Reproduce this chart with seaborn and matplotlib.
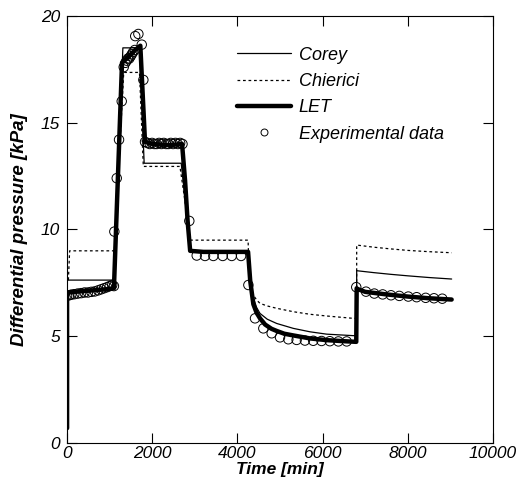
import matplotlib
matplotlib.use("Agg")
import matplotlib.pyplot as plt
import seaborn as sns
import pandas as pd
from matplotlib.lines import Line2D

sns.set_style("ticks")
plt.rcParams['font.family'] = ['Liberation Sans', 'DejaVu Sans']
for k in ["text.color", "axes.labelcolor", "xtick.color", "ytick.color", "axes.edgecolor"]:
    plt.rcParams[k] = "black"

# ---- data ----
let_t = [0, 0, 30, 300, 600, 900, 1100, 1290, 1400, 1500, 1600, 1720, 1830, 2000, 2400, 2700,
         2770, 2830, 2890, 3200, 3800, 4250, 4300, 4374, 4450, 4530, 4650, 4800, 4922, 5100,
         5313, 5704, 6095, 6500, 6790, 6800, 6810, 7000, 7500, 8000, 8500, 9030]
let_p = [0.7, 6.9, 7.05, 7.1, 7.15, 7.2, 7.25, 17.8, 18.0, 18.2, 18.4, 18.6, 14.1, 14.0, 13.95, 14.0,
         12.3, 10.4, 9.0, 8.95, 8.95, 8.95, 7.6, 6.5, 6.1, 5.84, 5.55, 5.35, 5.25, 5.12,
         5.04, 4.9, 4.82, 4.77, 4.74, 7.25, 7.22, 7.08, 6.96, 6.86, 6.78, 6.72]

corey_t = [0, 0, 30, 1110, 1310, 1700, 1810, 2680, 2900, 4250, 4300, 4374, 4450, 4530, 4700, 4922,
           5313, 5704, 6095, 6720, 6800, 6800, 7200, 7600, 8000, 8500, 9030]
corey_p = [0.7, 7.6, 7.63, 7.63, 18.5, 18.5, 13.1, 13.1, 9.0, 9.0, 7.7, 6.8, 6.35, 6.07, 5.8, 5.6,
           5.37, 5.21, 5.1, 5.03, 5.03, 8.07, 7.98, 7.9, 7.83, 7.75, 7.68]

chier_t = [0, 0, 30, 60, 1110, 1330, 1700, 1790, 2650, 2900, 4250, 4270, 4320, 4374, 4450, 4530,
           4700, 4922, 5313, 5704, 6095, 6720, 6800, 6800, 7200, 7600, 8000, 8500, 9030]
chier_p = [0.7, 7.5, 7.6, 9.0, 9.0, 17.35, 17.35, 12.95, 12.95, 9.5, 9.5, 8.3, 7.4, 6.93, 6.7, 6.54,
           6.42, 6.31, 6.15, 6.03, 5.95, 5.84, 5.84, 9.27, 9.17, 9.09, 9.02, 8.96, 8.91]

exp_t = [0, 50, 100, 170, 250, 330, 410, 490, 570, 650, 730, 800, 870, 940, 1000, 1060, 1100,
         1110, 1166, 1220, 1283, 1330, 1370, 1400, 1430, 1460, 1490, 1520, 1550, 1590, 1600, 1674,
         1753, 1791, 1830, 1885, 1940, 1995, 2050, 2105, 2160, 2215, 2270, 2325, 2380, 2435,
         2490, 2545, 2600, 2655, 2710, 2870, 3044, 3239, 3434, 3655, 3866, 4085, 4257, 4413,
         4608, 4804, 5000, 5195, 5390, 5585, 5780, 5975, 6170, 6370, 6565, 6790, 7019, 7214,
         7410, 7606, 7801, 8012, 8208, 8420, 8615, 8810]
exp_p = [6.9, 6.92, 6.95, 6.97, 7.0, 7.02, 7.05, 7.05, 7.08, 7.1, 7.15, 7.2, 7.25, 7.3, 7.35, 7.4, 7.35,
         9.9, 12.4, 14.2, 16.0, 17.6, 17.8, 17.9, 18.0, 18.0, 18.1, 18.2, 18.3, 18.4, 19.05, 19.15,
         18.65, 17.0, 14.1, 14.05, 14.0, 14.05, 14.0, 14.0, 14.05, 14.0, 14.05, 14.0, 14.0, 14.05,
         14.0, 14.05, 14.0, 14.05, 14.0, 10.4, 8.78, 8.76, 8.76, 8.76, 8.76, 8.76, 7.4, 5.84,
         5.37, 5.14, 4.95, 4.86, 4.83, 4.8, 4.79, 4.78, 4.77, 4.76, 4.76, 7.3, 7.09, 7.0,
         6.96, 6.92, 6.89, 6.86, 6.83, 6.8, 6.78, 6.76]

x_ticks = [0, 2000, 4000, 6000, 8000, 10000]
y_ticks = [0, 5, 10, 15, 20]

# ---- plot ----
fig = plt.figure(figsize=(5.2, 4.94), dpi=100)
ax = fig.add_axes([0.129, 0.103, 0.819, 0.865])

df_let = pd.DataFrame({"t": let_t, "p": let_p})
df_cor = pd.DataFrame({"t": corey_t, "p": corey_p})
df_chi = pd.DataFrame({"t": chier_t, "p": chier_p})
df_exp = pd.DataFrame({"t": exp_t, "p": exp_p})

sns.lineplot(data=df_cor, x="t", y="p", sort=False, estimator=None, color="black", lw=0.9, ax=ax)
sns.lineplot(data=df_chi, x="t", y="p", sort=False, estimator=None, color="black", lw=0.9,
             dashes=False, ax=ax).lines[-1].set_dashes((2.2, 2.2))
sns.lineplot(data=df_let, x="t", y="p", sort=False, estimator=None, color="black", lw=3.2, ax=ax)
sns.scatterplot(data=df_exp, x="t", y="p", marker="o", s=46, facecolors="none",
                edgecolor="black", linewidth=0.7, ax=ax, zorder=5)

ax.set_xlim(0, 10000)
ax.set_ylim(0, 20)
ax.set_xticks(x_ticks)
ax.set_yticks(y_ticks)
ax.set_xticklabels([str(v) for v in x_ticks], fontsize=12.5, style="italic")
ax.set_yticklabels([str(v) for v in y_ticks], fontsize=12.5, style="italic")
ax.tick_params(direction="in", length=7, width=0.8, top=True, right=True)
ax.tick_params(axis="x", pad=2)
ax.tick_params(axis="y", pad=5)
for s in ax.spines.values():
    s.set_visible(True)
    s.set_linewidth(0.8)
ax.set_xlabel("Time [min]", fontsize=12.5, fontweight="bold", style="italic", labelpad=1)
ax.set_ylabel("Differential pressure [kPa]", fontsize=13.5, fontweight="bold", style="italic", labelpad=9)

handles = [
    Line2D([], [], color="black", lw=0.9),
    Line2D([], [], color="black", lw=0.9, dashes=(2.2, 2.2)),
    Line2D([], [], color="black", lw=3.2),
    Line2D([], [], color="black", lw=0, marker="o", markerfacecolor="none", markersize=5, markeredgewidth=0.7),
]
labels = ["Corey", "Chierici", "LET", "Experimental data"]
leg = ax.legend(handles, labels, loc="upper left", bbox_to_anchor=(0.383, 0.945), frameon=False,
                handlelength=2.95, handletextpad=0.45, labelspacing=0.52,
                prop={"size": 13, "style": "italic"}, borderaxespad=0)

fig.savefig("out.png", dpi=100)
